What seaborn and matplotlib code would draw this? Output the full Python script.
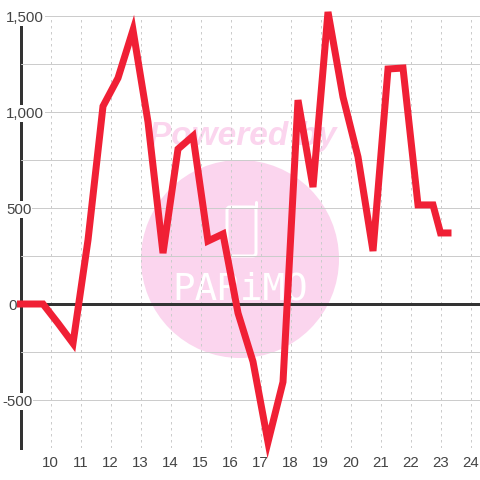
#!/usr/bin/env python3

import matplotlib
matplotlib.use("Agg")
import matplotlib.pyplot as plt
from matplotlib.patches import Circle, FancyBboxPatch
from matplotlib.lines import Line2D
from matplotlib.transforms import ScaledTranslation
import pandas as pd
import seaborn as sns

# data
HOURS = [9.0, 9.75, 10.25, 10.75, 11.25, 11.75, 12.25, 12.75, 13.25, 13.75, 14.25, 14.75,
         15.25, 15.75, 16.25, 16.75, 17.25, 17.75, 18.25, 18.75, 19.25, 19.75, 20.25,
         20.75, 21.25, 21.75, 22.25, 22.75, 23.0, 23.25]
VALUES = [0, 0, -100, -205, 333, 1030, 1177, 1427, 948, 265, 807, 875,
          328, 365, -47, -300, -719, -406, 1062, 609, 1521, 1078, 766,
          276, 1224, 1229, 516, 516, 370, 370]
X_TICKS = list(range(10, 25))
Y_TICKS = [-750, -500, -250, 0, 250, 500, 750, 1000, 1250, 1500]
Y_LABELS = ["", "-500", "", "0", "", "500", "", "1,000", "", "1,500"]

PX = 0.72  # points per pixel at dpi 100
RED = "#f02035"
DARK = "#333333"
GRID = "#cccccc"
PINK = "#fbd5ee"

sns.set_style("white")
plt.rcParams["font.family"] = ["Liberation Sans", "DejaVu Sans"]

fig = plt.figure(figsize=(4.8, 4.8), dpi=100)
ax = fig.add_axes([20.5 / 480, 32 / 480, (480 - 20.5) / 480, 432 / 480])

df = pd.DataFrame({"hour": HOURS, "value": VALUES})
sns.lineplot(data=df, x="hour", y="value", ax=ax, color=RED, linewidth=7 * PX,
             errorbar=None, sort=False, clip_on=False, zorder=3,
             solid_capstyle="projecting", solid_joinstyle="miter")

ax.set_xlim(9, 9 + (480 - 20.5) / 30)
ax.set_ylim(-750, 1500)
ax.set_xlabel("")
ax.set_ylabel("")
ax.set_xticks(X_TICKS)
ax.set_yticks(Y_TICKS)
ax.set_yticklabels(Y_LABELS)

ax.set_axisbelow(True)
ax.grid(axis="y", color=GRID, linewidth=1 * PX)
ax.grid(axis="x", color=GRID, linewidth=1 * PX, linestyle=(0, (2.5, 3.5)))
ax.tick_params(axis="both", length=0, labelsize=10.8, labelcolor="#444444")
ax.tick_params(axis="x", pad=6)
ax.tick_params(axis="y", pad=10.5)

for lab in ax.get_yticklabels():
    lab.set_ha("left")
    lab.set_bbox(dict(facecolor="white", edgecolor="none", pad=0.8))
    # the minus sign hangs left of the others, the zero sits a bit right
    if lab.get_text() == "-500":
        lab.set_transform(lab.get_transform() + ScaledTranslation(-4 / 100, 0, fig.dpi_scale_trans))
    if lab.get_text() == "0":
        lab.set_transform(lab.get_transform() + ScaledTranslation(2 / 100, 0, fig.dpi_scale_trans))

for name in ["top", "right", "bottom"]:
    ax.spines[name].set_visible(False)
ax.spines["left"].set_color(DARK)
ax.spines["left"].set_linewidth(3 * PX)
ax.spines["left"].set_zorder(0.4)

# zero line sits over the grid, under the series
ax.axhline(0, color=DARK, linewidth=3 * PX, zorder=2)

# watermark, placed in inches from the lower left of the figure
inch = fig.dpi_scale_trans
ax.add_patch(Circle((2.40, 2.21), 0.99, transform=inch, facecolor=PINK,
                    edgecolor="none", zorder=0.1, clip_on=False))
ax.add_patch(FancyBboxPatch((2.27, 2.24), 0.29, 0.49, boxstyle="round,pad=0,rounding_size=0.03",
                            transform=inch, facecolor="none", edgecolor="white",
                            linewidth=3 * PX, zorder=0.2, clip_on=False))
ax.add_line(Line2D([2.56, 2.56], [2.73, 2.78], transform=inch, color="white",
                   linewidth=3 * PX, solid_capstyle="round", zorder=0.2, clip_on=False))
ax.text(2.43, 3.44, "Powered by", transform=inch, color=PINK, fontsize=24, fontweight="bold",
        fontstyle="italic", ha="center", va="center", zorder=0.1, clip_on=False)
ax.text(2.40, 1.91, "PARiMO", transform=inch, color="white", fontsize=27,
        family="DejaVu Sans Mono", ha="center", va="center", zorder=0.2, clip_on=False)

fig.savefig("out.png", dpi=100, facecolor="white")
